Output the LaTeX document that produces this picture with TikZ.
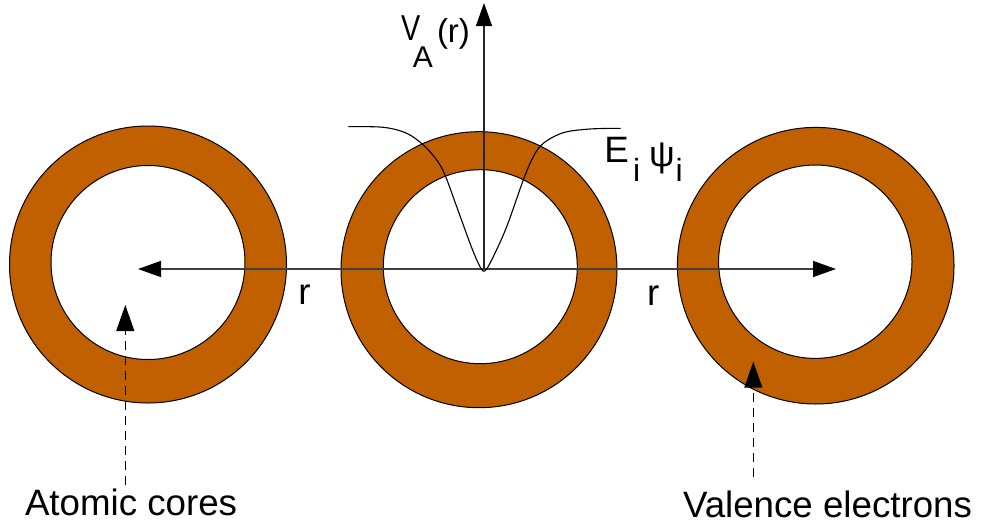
\documentclass[tikz,border=0pt]{standalone}
\usepackage{fontspec}
\setmainfont{Liberation Sans}
\usetikzlibrary{arrows.meta}
\definecolor{ringc}{RGB}{192,96,0}
\tikzset{
  ringfill/.style={draw=black, line width=1pt, fill=ringc, even odd rule},
  axisline/.style={draw=black!75, line width=1.4pt},
  tipA/.style={-{Triangle[length=23pt,width=16pt,color=black]}},
  pointer/.style={draw=black, line width=1.1pt, dash pattern=on 9pt off 6pt, -{Triangle[length=26pt,width=18pt,color=black]}},
  curve/.style={draw=black, line width=1.1pt},
  lbl/.style={anchor=base west, inner sep=0pt, outer sep=0pt, font=\fontsize{36.7}{40}\selectfont},
}
\begin{document}
\begin{tikzpicture}[x=1pt,y=-1pt]
\useasboundingbox (0,0) rectangle (981,525);
% rings
\path[ringfill] (148,264.5) circle[radius=138.5] (148,262.5) circle[radius=97];
\path[ringfill] (479,269.7) circle[radius=138] (480.3,266.7) circle[radius=97];
\path[ringfill] (815.7,265.7) circle[radius=138.3] (815.3,261.7) circle[radius=96.7];
% axes
\coordinate (O) at (484,269);
\coordinate (L) at (138,269);
\coordinate (R) at (836,269);
\coordinate (T) at (484,3);
\draw[axisline, tipA] (O) -- (L);
\draw[axisline, tipA] (O) -- (R);
\draw[draw=black!85, line width=1.2pt, tipA] (O) -- (T);
% curve
\draw[curve] plot[smooth, tension=0.55] coordinates {
 (348.3,126.7) (383.3,127.3) (406.7,133.3) (423.3,145) (436.7,160) (445,175)
 (456.7,206.7) (470,243.3) (478.3,263.3) (483.3,271.2) (487,268.3) (493.3,256.7)
 (506.7,226.7) (523.3,180) (533.3,156.7) (543.3,143.3) (563.3,132.7) (590,129) (620.7,128.3)};
% pointers
\coordinate (acfoot) at (125.3,485);
\coordinate (actip) at (125.3,305);
\coordinate (vefoot) at (753.3,477);
\coordinate (vetip) at (753.3,361.7);
\draw[pointer] (acfoot) -- (actip);
\draw[pointer] (vefoot) -- (vetip);
% labels
\node[lbl] (ac) at (25,515) {Atomic cores};
\node[lbl] (ve) at (683,517) {Valence electrons};
\node[lbl] (r1) at (298.3,304.3) {r};
\node[lbl] (r2) at (647,305) {r};
\node[lbl] (E) at (604.4,162.7) {E};
\node[lbl, font=\fontsize{32}{34}\selectfont] (Ei) at (633,181) {i};
\node[lbl, font=\fontsize{36}{38}\selectfont] (psi) at (649,166) {ψ};
\node[lbl, font=\fontsize{32}{34}\selectfont] (psii) at (675.6,181) {i};
\node[lbl, font=\fontsize{36}{38}\selectfont] (V) at (401.2,40) {\scalebox{0.8}[1]{V}};
\node[lbl, font=\fontsize{30}{31}\selectfont] (VA) at (412.8,67.5) {A};
\node[lbl, font=\fontsize{33}{35}\selectfont] (Vr) at (437,42.5) {(r)};
\end{tikzpicture}
\end{document}
